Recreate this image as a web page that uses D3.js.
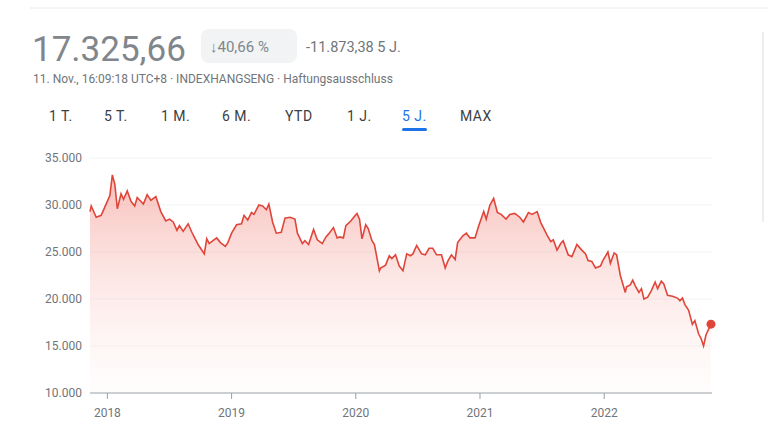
<!DOCTYPE html>
<html><head><meta charset="utf-8">
<script src="https://cdn.jsdelivr.net/npm/d3@7/dist/d3.min.js"></script>
<style>body{margin:0;background:#fff;font-family:Roboto,Arial,sans-serif}</style></head>
<body><svg id="c" width="768" height="428"></svg>
<script>
const dates=[2017.86,2017.87,2017.91,2017.95,2017.98,2018.02,2018.04,2018.06,2018.08,2018.11,2018.13,2018.16,2018.19,2018.22,2018.24,2018.29,2018.32,2018.35,2018.39,2018.43,2018.47,2018.50,2018.53,2018.56,2018.58,2018.61,2018.65,2018.68,2018.73,2018.75,2018.78,2018.80,2018.82,2018.85,2018.88,2018.91,2018.95,2018.97,2019.00,2019.04,2019.08,2019.10,2019.13,2019.16,2019.18,2019.22,2019.25,2019.28,2019.30,2019.33,2019.36,2019.40,2019.43,2019.47,2019.51,2019.53,2019.57,2019.59,2019.62,2019.66,2019.69,2019.73,2019.76,2019.78,2019.82,2019.85,2019.87,2019.90,2019.92,2019.96,2019.99,2020.01,2020.03,2020.05,2020.08,2020.10,2020.13,2020.15,2020.19,2020.20,2020.24,2020.27,2020.29,2020.32,2020.35,2020.38,2020.41,2020.44,2020.46,2020.49,2020.53,2020.56,2020.59,2020.62,2020.65,2020.69,2020.72,2020.74,2020.77,2020.80,2020.82,2020.86,2020.89,2020.92,2020.96,2020.99,2021.03,2021.05,2021.08,2021.11,2021.14,2021.17,2021.21,2021.24,2021.28,2021.32,2021.35,2021.39,2021.42,2021.46,2021.49,2021.51,2021.54,2021.57,2021.59,2021.62,2021.65,2021.67,2021.71,2021.74,2021.78,2021.82,2021.85,2021.87,2021.90,2021.93,2021.97,2021.99,2022.03,2022.05,2022.08,2022.10,2022.13,2022.17,2022.18,2022.21,2022.23,2022.25,2022.28,2022.30,2022.32,2022.35,2022.38,2022.41,2022.43,2022.46,2022.48,2022.51,2022.55,2022.59,2022.61,2022.63,2022.65,2022.68,2022.71,2022.73,2022.76,2022.78,2022.80,2022.82,2022.86];
const values=[29300,29900,28700,28900,29800,31000,33200,32200,29600,31200,30600,31500,30400,29900,30800,30100,31100,30500,30900,29300,28300,28500,28200,27300,27800,27200,28000,27100,25800,25400,24800,26400,25900,26200,26500,26000,25600,26000,27000,27900,28000,28900,28400,29200,29000,30000,29900,29500,30100,28200,27000,27100,28600,28700,28500,27000,25900,26200,25800,27400,26300,25900,26600,26900,27600,26500,26600,26500,27800,28300,28800,29100,28500,26400,27900,27500,26200,25800,23000,23300,23600,24600,24300,24700,23500,23000,24800,24600,24800,25700,24800,24700,25400,25400,24700,24700,23300,24000,24700,24200,26000,26700,27000,26500,26500,27800,29300,28500,30000,30700,29200,29000,28500,29000,29100,28700,28200,29200,29000,29300,28100,27600,26800,26100,26300,25200,25900,26200,24700,24500,25800,25200,24800,24100,24000,23300,23500,24100,25000,23800,24900,24700,22500,20700,21300,21500,22000,21400,20700,21100,20000,20200,20900,21800,21100,21900,21600,20400,20300,20100,19800,20100,19400,18800,17300,17700,16300,15800,15000,16200,17326];
const yTicks=[10000,15000,20000,25000,30000,35000];
const yearTicks=[2018,2019,2020,2021,2022];
const tabs=["1 T.","5 T.","1 M.","6 M.","YTD","1 J.","5 J.","MAX"];

const svg=d3.select("#c");
const fmt=d3.formatLocale({decimal:",",thousands:".",grouping:[3],currency:["","€"]}).format(",.0f");
const x=d3.scaleLinear().domain([2017.86,2022.86]).range([90,711]);
const y=d3.scaleLinear().domain([10000,35000]).range([393,158]);
const data=dates.map((d,i)=>[d,values[i]]);

svg.append("line").attr("x1",30).attr("x2",768).attr("y1",8).attr("y2",8).attr("stroke","#e8eaed");
svg.append("line").attr("x1",763).attr("x2",763).attr("y1",32).attr("y2",222).attr("stroke","#dadce0");
svg.append("text").attr("x",32).attr("y",61).attr("font-size",35).attr("fill","#80868b").text("17.325,66");
svg.append("rect").attr("x",201).attr("y",29).attr("width",96).attr("height",34).attr("rx",8).attr("fill","#f1f3f4");
svg.append("text").attr("x",210).attr("y",52).attr("font-size",15).attr("fill","#80868b").text("↓40,66 %");
svg.append("text").attr("x",306).attr("y",52).attr("font-size",14.5).attr("fill","#70757a").text("-11.873,38 5 J.");
svg.append("text").attr("x",33).attr("y",83).attr("font-size",12).attr("fill","#70757a").text("11. Nov., 16:09:18 UTC+8 · INDEXHANGSENG · Haftungsausschluss");
const tabX=[49,104,161,222,285,347,402,460];
tabs.forEach((t,i)=>{svg.append("text").attr("x",tabX[i]).attr("y",121).attr("font-size",14).attr("letter-spacing",0.5)
 .attr("fill",t==="5 J."?"#1a73e8":"#3c4043").text(t);});
svg.append("rect").attr("x",402).attr("y",128).attr("width",25).attr("height",3).attr("rx",1.5).attr("fill","#1a73e8");

const g=svg.append("g");
g.selectAll(".gl").data(yTicks.slice(1)).join("line").attr("x1",90).attr("x2",712).attr("y1",d=>y(d)).attr("y2",d=>y(d)).attr("stroke","#f1f3f4");
g.selectAll(".yl").data(yTicks).join("text").attr("x",82).attr("y",d=>y(d)+4).attr("text-anchor","end").attr("font-size",12).attr("fill","#70757a").text(d=>fmt(d));

const defs=svg.append("defs");
const lg=defs.append("linearGradient").attr("id","gr").attr("x1",0).attr("x2",0).attr("y1",0).attr("y2",1);
lg.append("stop").attr("offset","0%").attr("stop-color","#f28b82").attr("stop-opacity",0.55);
lg.append("stop").attr("offset","100%").attr("stop-color","#fce8e6").attr("stop-opacity",0.1);
svg.append("path").datum(data).attr("d",d3.area().x(d=>x(d[0])).y0(y(10000)).y1(d=>y(d[1]))).attr("fill","url(#gr)");
svg.append("path").datum(data).attr("d",d3.line().x(d=>x(d[0])).y(d=>y(d[1]))).attr("fill","none").attr("stroke","#e0453a").attr("stroke-width",1.6);
svg.append("circle").attr("cx",x(dates[dates.length-1])).attr("cy",y(values[values.length-1])).attr("r",4.5).attr("fill","#e0453a");

svg.append("line").attr("x1",90).attr("x2",712).attr("y1",393).attr("y2",393).attr("stroke","#9aa0a6");
const ax=svg.append("g");
ax.selectAll("line").data(yearTicks).join("line").attr("x1",d=>x(d)).attr("x2",d=>x(d)).attr("y1",393).attr("y2",399).attr("stroke","#9aa0a6");
ax.selectAll("text").data(yearTicks).join("text").attr("x",d=>x(d)).attr("y",417).attr("text-anchor","middle").attr("font-size",12).attr("fill","#70757a").text(d=>d);
</script></body></html>
